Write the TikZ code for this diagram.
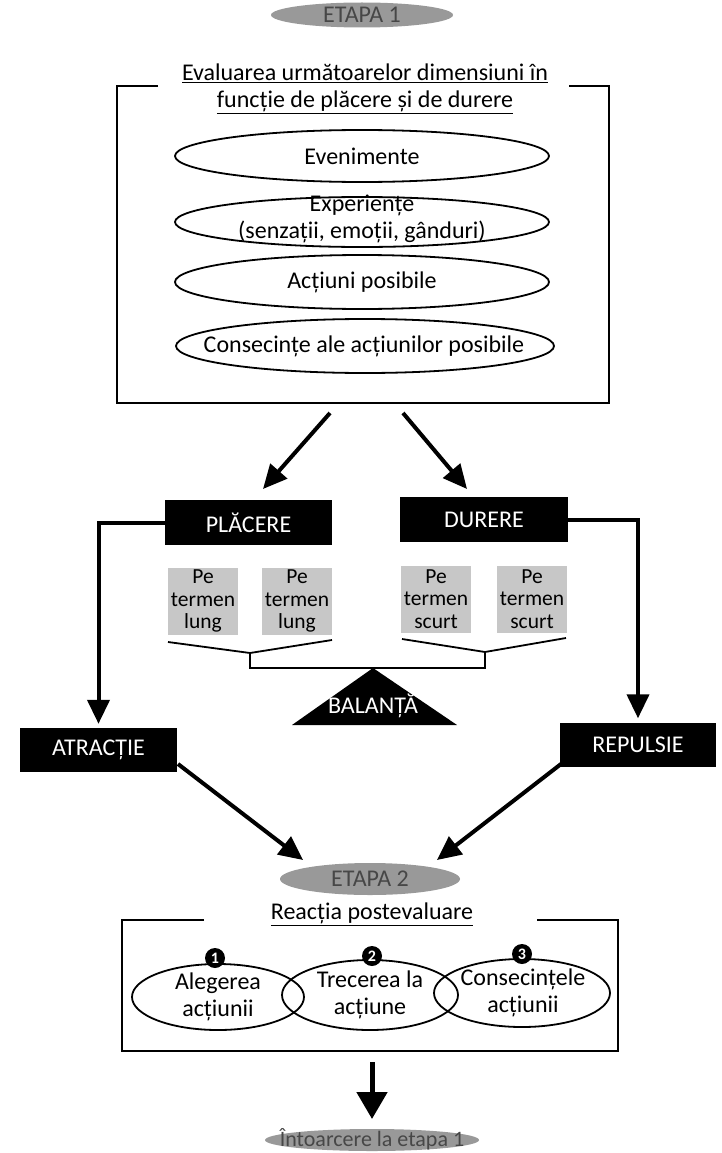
\documentclass[tikz,border=0pt]{standalone}
\usepackage{fontspec}
\setmainfont{Carlito}
\usetikzlibrary{shapes.geometric,arrows.meta}
\begin{document}
\begin{tikzpicture}[x=1pt,y=-1pt,
  every node/.style={font=\fontsize{24}{27}\selectfont},
  gfill/.style={fill=black!40},
  gtext/.style={text=black!72, inner sep=0, font=\fontsize{24}{26}\selectfont},
  otext/.style={inner sep=0, align=center},
  oline/.style={line width=1.8pt},
  blk/.style={fill=black, text=white, inner sep=0},
  gbox/.style={fill=black!22, inner sep=0, align=center, minimum width=70pt, minimum height=67pt, font=\fontsize{21.5}{22.5}\selectfont},
  frame/.style={line width=1.8pt},
  bigarrow/.style={line width=4pt, -{Triangle[length=24pt,width=22pt]}},
  num/.style={circle, fill=black, text=white, inner sep=0, minimum size=20pt, font=\bfseries\fontsize{16}{16}\selectfont}
]
\useasboundingbox (0,0) rectangle (721,1153);

% ---- ETAPA 1
\fill[gfill] (362,15) ellipse [x radius=91pt, y radius=12.5pt];
\node[gtext] (e1) at (362,15) {ETAPA 1};
\node[align=center] (hdr) at (365,89) {\underline{Evaluarea următoarelor dimensiuni în}\\\underline{funcție de plăcere și de durere}};
\draw[frame] (158,86) -- (117,86) -- (117,403) -- (609,403) -- (609,86) -- (569,86);

\node[otext] (ev1) at (362,156) {Evenimente};
\node[otext] (ev2) at (362,219) {Experiențe\\(senzații, emoții, gânduri)};
\node[otext] (ev3) at (362,282) {Acțiuni posibile};
\node[otext] (ev4) at (364,346) {Consecințe ale acțiunilor posibile};
\draw[oline] (362,156) ellipse [x radius=187pt, y radius=26pt];
\draw[oline] (362,222) ellipse [x radius=187pt, y radius=25pt];
\draw[oline] (362,282) ellipse [x radius=187pt, y radius=27pt];
\draw[oline] (365,346) ellipse [x radius=189pt, y radius=27pt];

\coordinate (a1s) at (330,413);
\coordinate (a1e) at (263,489);
\coordinate (a2s) at (403,413);
\coordinate (a2e) at (467,489);
\draw[bigarrow] (a1s) -- (a1e);
\draw[bigarrow] (a2s) -- (a2e);

% ---- black boxes
\node[blk, minimum width=167pt, minimum height=45pt] (plac) at (248.5,522.5) {PLĂCERE};
\node[blk, minimum width=168pt, minimum height=45pt] (dur) at (484,519.5) {DURERE};
\node[blk, minimum width=157pt, minimum height=44pt] (atr) at (98.5,750) {ATRACȚIE};
\node[blk, minimum width=156pt, minimum height=44pt] (rep) at (638,744.5) {REPULSIE};

\draw[bigarrow, shorten >=4pt] (plac.west) -| (atr.north);
\draw[bigarrow, shorten >=4pt] (dur.east) -| (rep.north);

% ---- grey boxes
\node[gbox] (g1) at (203,601) {Pe\\termen\\lung};
\node[gbox] (g2) at (297,601) {Pe\\termen\\lung};
\node[gbox] (g3) at (436,599) {Pe\\termen\\scurt};
\node[gbox] (g4) at (532,599) {Pe\\termen\\scurt};

% ---- balance
\draw[frame, line join=miter] (168,642) -- (250,653) -- (332,640);
\draw[frame, line join=miter] (402,639) -- (485,652) -- (566,638);
\draw[frame, line join=miter] (250,653) -- (250,668) -- (485,668) -- (485,652);
\fill (373,668) -- (457,725) -- (292,725) -- cycle;
\node[text=white] (bal) at (373,706) {BALANȚĂ};

% ---- to ETAPA 2
\coordinate (b1s) at (178,764);
\coordinate (b1e) at (303,860);
\coordinate (b2s) at (561,764);
\coordinate (b2e) at (437,860);
\draw[bigarrow] (b1s) -- (b1e);
\draw[bigarrow] (b2s) -- (b2e);

\fill[gfill] (370,879) ellipse [x radius=90pt, y radius=16pt];
\node[gtext] (e2) at (370,879) {ETAPA 2};

\node (hdr2) at (372,914) {\underline{Reacția postevaluare}};
\draw[frame] (204,920) -- (122,920) -- (122,1051) -- (618,1051) -- (618,920) -- (537,920);

\node[otext] (s1) at (218,997) {Alegerea\\acțiunii};
\node[otext] (s2) at (370,995) {Trecerea la\\acțiune};
\node[otext] (s3) at (523,993) {Consecințele\\acțiunii};
\draw[oline] (218,997) ellipse [x radius=86pt, y radius=33pt];
\draw[oline] (370,995) ellipse [x radius=88pt, y radius=35pt];
\draw[oline] (522,993) ellipse [x radius=88pt, y radius=34pt];
\node[num] (n1) at (215,958) {1};
\node[num] (n2) at (372,956) {2};
\node[num] (n3) at (522,954) {3};

\coordinate (c1s) at (372,1062);
\coordinate (c1e) at (372,1119);
\draw[line width=5pt, -{Triangle[length=27pt,width=30pt]}] (c1s) -- (c1e);

\fill[gfill] (372,1140) ellipse [x radius=107pt, y radius=11pt];
\node[gtext, font=\fontsize{22}{24}\selectfont] (ret) at (372,1139) {Întoarcere la etapa 1};
\end{tikzpicture}
\end{document}
